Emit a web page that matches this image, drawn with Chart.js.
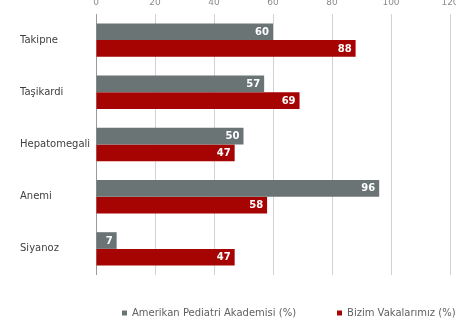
<!DOCTYPE html>
<html>
<head>
<meta charset="utf-8">
<script src="https://cdn.jsdelivr.net/npm/chart.js@4/dist/chart.umd.min.js"></script>
<style>
html,body{margin:0;padding:0;background:#fff;overflow:hidden;}
#wrap{position:absolute;left:0;top:0;width:456px;height:322px;}
</style>
</head>
<body>
<div id="wrap"><canvas id="c" width="456" height="322"></canvas></div>
<script>
const categories = ["Takipne", "Taşikardi", "Hepatomegali", "Anemi", "Siyanoz"];
const seriesNames = ["Amerikan Pediatri Akademisi (%)", "Bizim Vakalarımız (%)"];
const aapValues = [60, 57, 50, 96, 7];
const ourValues = [88, 69, 47, 58, 47];
const xTicks = [0, 20, 40, 60, 80, 100, 120];

const GRAY = "#6b7474";
const RED = "#a60303";
const FONT = "'DejaVu Sans', Verdana, sans-serif";

const valueLabels = {
  id: "valueLabels",
  afterDatasetsDraw(chart) {
    const ctx = chart.ctx;
    ctx.save();
    ctx.font = "bold 10px " + FONT;
    ctx.fillStyle = "#ffffff";
    ctx.textAlign = "right";
    ctx.textBaseline = "middle";
    chart.data.datasets.forEach((ds, di) => {
      const meta = chart.getDatasetMeta(di);
      meta.data.forEach((bar, i) => {
        ctx.fillText(String(ds.data[i]), bar.x - 4, bar.y + 0.5);
      });
    });
    ctx.restore();
  }
};

const legendPlace = {
  id: "legendPlace",
  afterLayout(chart) {
    const lg = chart.legend;
    if (!lg) return;
    const pad = lg.options.labels.padding;
    lg.left = 122 - pad;
    lg.right = 2000;
    lg.top = 308 - pad;
    lg.bottom = 400;
  }
};

new Chart(document.getElementById("c"), {
  type: "bar",
  data: {
    labels: categories,
    datasets: [
      { label: seriesNames[0], data: aapValues, backgroundColor: GRAY, borderWidth: 0 },
      { label: seriesNames[1], data: ourValues, backgroundColor: RED, borderWidth: 0 }
    ]
  },
  options: {
    indexAxis: "y",
    responsive: false,
    animation: false,
    devicePixelRatio: 1,
    layout: { padding: { left: 20, right: 0, top: 0, bottom: 0 } },
    datasets: { bar: { categoryPercentage: 0.64, barPercentage: 1.0 } },
    scales: {
      x: {
        position: "top",
        min: 0, max: 120,
        afterBuildTicks(scale) { scale.ticks = xTicks.map(v => ({ value: v })); },
        afterFit(scale) { scale.height = 14; scale.paddingRight = 6; scale.paddingLeft = 0; },
        border: { display: false },
        grid: {
          drawTicks: false,
          color: (ctx) => ctx.tick && ctx.tick.value === 0 ? "#9a9a9a" : "#d2d2d2",
          lineWidth: 1
        },
        ticks: {
          padding: 6,
          color: "#8c8c8c",
          font: { family: FONT, size: 9 }
        }
      },
      y: {
        afterFit(scale) { scale.width = 76; },
        border: { display: false },
        grid: { display: false, drawTicks: false },
        ticks: {
          crossAlign: "far",
          color: "#404040",
          font: { family: FONT, size: 10 }
        }
      }
    },
    plugins: {
      legend: {
        position: "bottom",
        align: "start",
        maxHeight: 47,
        labels: {
          boxWidth: 5,
          boxHeight: 5,
          padding: 41,
          color: "#606060",
          font: { family: FONT, size: 10 }
        }
      },
      tooltip: { enabled: false }
    }
  },
  plugins: [valueLabels, legendPlace]
});
</script>
</body>
</html>
